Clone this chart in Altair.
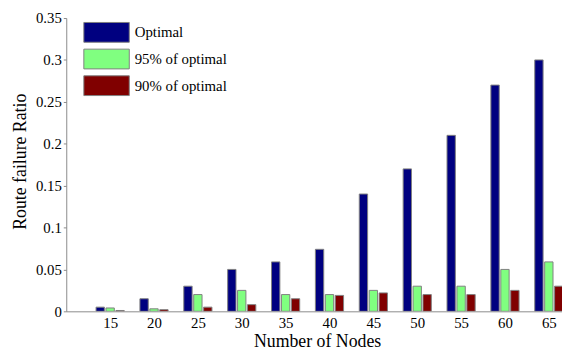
import altair as alt
import pandas as pd

nodes = [15, 20, 25, 30, 35, 40, 45, 50, 55, 60, 65]
optimal = [0.005, 0.015, 0.030, 0.050, 0.059, 0.074, 0.140, 0.170, 0.210, 0.270, 0.300]
pct95 = [0.004, 0.003, 0.020, 0.025, 0.020, 0.020, 0.025, 0.030, 0.030, 0.050, 0.059]
pct90 = [0.001, 0.002, 0.005, 0.008, 0.015, 0.019, 0.022, 0.020, 0.020, 0.025, 0.030]
series = ["Optimal", "95% of optimal", "90% of optimal"]
colors = ["#000080", "#80ff80", "#800000"]
y_ticks = [0, 0.05, 0.1, 0.15, 0.2, 0.25, 0.3, 0.35]

rows = []
for name, vals in zip(series, [optimal, pct95, pct90]):
    for n, v in zip(nodes, vals):
        rows.append({"nodes": n, "series": name, "value": v})
df = pd.DataFrame(rows)

FONT = "Liberation Serif"

bars = (
    alt.Chart(df)
    .transform_calculate(
        idx="indexof(['Optimal','95% of optimal','90% of optimal'], datum.series)"
    )
    .transform_calculate(
        x0="datum.nodes + (datum.idx - 1) * 1.13 - 0.475",
        x1="datum.nodes + (datum.idx - 1) * 1.13 + 0.475",
        zero="0",
    )
    .mark_bar(stroke="#808080", strokeWidth=1, clip=True)
    .encode(
        x=alt.X(
            "x0:Q",
            scale=alt.Scale(domain=[10, 66.5], nice=False, zero=False),
            axis=alt.Axis(
                values=nodes,
                ticks=False,
                tickSize=0,
                labelPadding=4,
                labelFont=FONT,
                labelFontSize=15,
                grid=False,
                title="Number of Nodes",
                titleFont=FONT,
                titleFontSize=18,
                titleX=254,
                titleY=36,
                titleBaseline="alphabetic",
            ),
        ),
        x2="x1:Q",
        y=alt.Y(
            "value:Q",
            scale=alt.Scale(domain=[0, 0.35], nice=False),
            axis=alt.Axis(
                values=y_ticks,
                format="~g",
                tickSize=3,
                labelPadding=2,
                labelFont=FONT,
                labelFontSize=15,
                grid=False,
                title="Route failure Ratio",
                titleFont=FONT,
                titleFontSize=18,
                titleX=-41.7,
                titleY=145,
                titleBaseline="alphabetic",
                titleAlign="center",
            ),
        ),
        y2="zero:Q",
        color=alt.Color(
            "series:N",
            scale=alt.Scale(domain=series, range=colors),
            legend=alt.Legend(
                orient="none",
                legendX=30.3,
                legendY=4,
                title=None,
                symbolType="M-2.3,-1H2.3V1H-2.3Z",
                symbolSize=400,
                symbolStrokeColor="#808080",
                symbolStrokeWidth=1,
                symbolOpacity=1,
                labelFont=FONT,
                labelFontSize=15,
                labelColor="#000000",
                labelOffset=18,
                rowPadding=2,
                padding=0,
            ),
        ),
    )
)

chart = (
    bars.properties(
        width=502,
        height=297,
        autosize=alt.AutoSizeParams(type="none"),
        padding={"left": 59, "top": 8, "right": 0, "bottom": 38},
    )
    .configure(font=FONT)
    .configure_view(strokeWidth=0)
    .configure_axis(
        labelFont=FONT,
        titleFont=FONT,
        labelColor="#000000",
        titleColor="#000000",
        titleFontWeight="normal",
        domainColor="#8a8a8a",
        tickColor="#8a8a8a",
    )
)

chart.save("out.html", embed_options={"renderer": "svg", "actions": False})
